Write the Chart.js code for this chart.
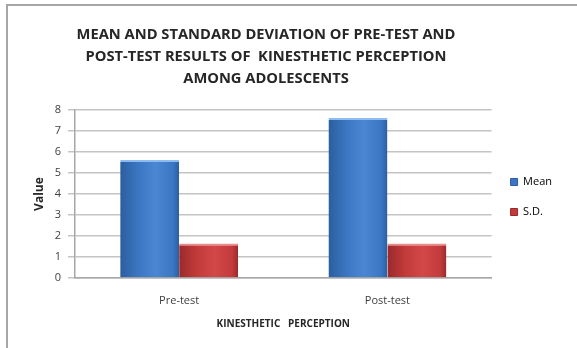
<!DOCTYPE html>
<html>
<head>
<meta charset="utf-8">
<script src="https://cdn.jsdelivr.net/npm/chart.js@4/dist/chart.umd.min.js"></script>
<style>
  html, body { margin: 0; padding: 0; background: #ffffff; }
  #wrap { width: 577px; height: 348px; position: relative; }
</style>
</head>
<body>
<div id="wrap"><canvas id="chart" width="577" height="348"></canvas></div>
<script>
// Kinesthetic perception scores
const categories = ['Pre-test', 'Post-test'];
const meanValues = [5.63, 7.63];
const sdValues = [1.64, 1.64];
const yTicks = [0, 1, 2, 3, 4, 5, 6, 7, 8];
const seriesNames = ['Mean', 'S.D.'];
const titleLines = [
  'MEAN AND STANDARD DEVIATION OF PRE-TEST AND',
  'POST-TEST RESULTS OF  KINESTHETIC PERCEPTION',
  'AMONG ADOLESCENTS'
];

const FONT = '"Open Sans", Lato, sans-serif';
const CAT_PCT = 0.566;

// Horizontal shading across a bar: darker edges, lighter middle
function shaded(dark, mid, light) {
  return function (ctx) {
    const chart = ctx.chart;
    if (ctx.type !== 'data' || !chart.scales || !chart.scales.x) return mid;
    const xs = chart.scales.x;
    const n = chart.data.datasets.length;
    const catW = xs.width / categories.length;
    const groupW = catW * CAT_PCT;
    const slot = groupW / n;
    const cx = xs.getPixelForValue(ctx.dataIndex);
    const left = cx - groupW / 2 + slot * ctx.datasetIndex;
    const right = left + slot;
    if (!isFinite(left) || !isFinite(right)) return mid;
    const g = chart.ctx.createLinearGradient(left, 0, right, 0);
    g.addColorStop(0, dark);
    g.addColorStop(0.3, mid);
    g.addColorStop(0.6, light);
    g.addColorStop(0.9, mid);
    g.addColorStop(1, dark);
    return g;
  };
}

// Page frame lines (left and top) and white background
const framePlugin = {
  id: 'frame',
  beforeDraw(chart) {
    const c = chart.ctx;
    c.save();
    c.fillStyle = '#ffffff';
    c.fillRect(0, 0, chart.width, chart.height);
    c.strokeStyle = '#a6a6a6';
    c.lineWidth = 2;
    c.beginPath();
    c.moveTo(7, chart.height);
    c.lineTo(7, 5);
    c.lineTo(chart.width, 5);
    c.stroke();
    c.restore();
  }
};

// Title centred over the plot region; legend sits a little lower
const boxShift = {
  id: 'boxShift',
  afterLayout(chart) {
    const t = chart.titleBlock;
    if (t) { t.left -= 20; t.right -= 20; }
    const l = chart.legend;
    if (l) { l.top += 17; l.bottom += 17; }
  }
};

new Chart(document.getElementById('chart'), {
  type: 'bar',
  data: {
    labels: categories,
    datasets: [
      {
        label: seriesNames[0],
        data: meanValues,
        backgroundColor: shaded('#2b5e9e', '#3b76c2', '#4a86d2'),
        borderColor: '#8cbcf0',
        borderWidth: { top: 2, left: 0, right: 0, bottom: 0 },
        borderSkipped: false,
        categoryPercentage: CAT_PCT,
        barPercentage: 1.0
      },
      {
        label: seriesNames[1],
        data: sdValues,
        backgroundColor: shaded('#9a2a2a', '#c33a3a', '#d24848'),
        borderColor: '#ee8a8a',
        borderWidth: { top: 2, left: 0, right: 0, bottom: 0 },
        borderSkipped: false,
        categoryPercentage: CAT_PCT,
        barPercentage: 1.0
      }
    ]
  },
  options: {
    responsive: false,
    animation: false,
    devicePixelRatio: 1,
    layout: { padding: { left: 10, top: 12, right: 15, bottom: 0 } },
    plugins: {
      title: {
        display: true,
        text: titleLines,
        color: '#262626',
        font: { family: FONT, size: 14.7, weight: 'bold', lineHeight: 1.5 },
        padding: { top: 12, bottom: 20 }
      },
      legend: {
        position: 'right',
        align: 'center',
        labels: {
          color: '#404040',
          font: { family: FONT, size: 11 },
          boxWidth: 7,
          boxHeight: 7,
          padding: 19,
          generateLabels(chart) {
            return chart.data.datasets.map((ds, i) => ({
              text: ds.label,
              fillStyle: i === 0 ? '#3b76c2' : '#c33a3a',
              strokeStyle: i === 0 ? '#2b5e9e' : '#9a2a2a',
              lineWidth: 1,
              datasetIndex: i
            }));
          }
        }
      },
      tooltip: { enabled: false }
    },
    scales: {
      x: {
        grid: { display: false, drawTicks: false },
        border: { display: true, color: '#a6a6a6', width: 1.5 },
        ticks: { color: '#404040', font: { family: FONT, size: 11 }, padding: 16 },
        title: {
          display: true,
          text: 'KINESTHETIC   PERCEPTION',
          color: '#262626',
          font: { family: FONT, size: 10, weight: 'bold' },
          padding: { top: 0, bottom: 18 }
        },
        afterFit(scale) { scale.height = 70; }
      },
      y: {
        min: 0,
        max: 8,
        afterBuildTicks(scale) { scale.ticks = yTicks.map(v => ({ value: v })); },
        grid: { color: '#c4c4c4', lineWidth: 1.5, tickLength: 7, drawTicks: true },
        border: { display: true, color: '#a6a6a6', width: 1.5 },
        ticks: { color: '#404040', font: { family: FONT, size: 11 }, padding: 7 },
        title: {
          display: true,
          text: 'Value',
          color: '#262626',
          font: { family: FONT, size: 12, weight: 'bold' },
          padding: { top: 22, bottom: 0 }
        },
        afterFit(scale) { scale.width = 65; }
      }
    }
  },
  plugins: [framePlugin, boxShift]
});
</script>
</body>
</html>
